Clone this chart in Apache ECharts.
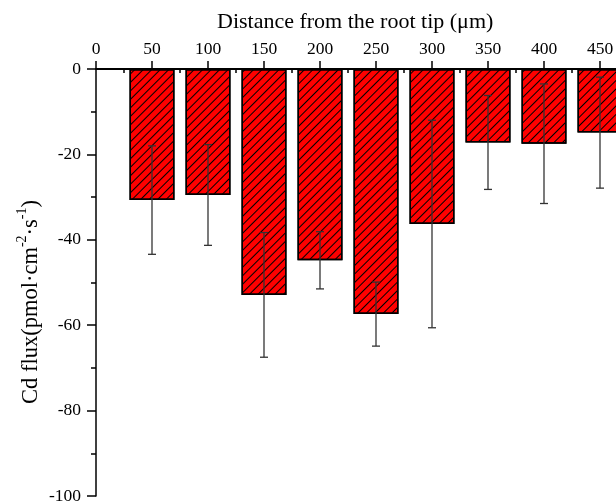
<!DOCTYPE html>
<html>
<head>
<meta charset="utf-8">
<script src="https://cdn.jsdelivr.net/npm/echarts@6/dist/echarts.min.js"></script>
<style>
  html, body { margin: 0; padding: 0; background: #fff; }
  #chart { width: 616px; height: 503px; }
</style>
</head>
<body>
<div id="chart"></div>
<script>
// distance from root tip (um) and Cd flux mean / error
const distances = [50, 100, 150, 200, 250, 300, 350, 400, 450];
const fluxMean = [-30.7, -29.5, -52.9, -44.8, -57.4, -36.3, -17.2, -17.5, -14.9];
const fluxErr = [12.7, 11.8, 14.6, 6.7, 7.5, 24.3, 11.0, 14.0, 13.0];

const FONT = "Liberation Serif";

const chart = echarts.init(document.getElementById("chart"));

const barData = distances.map((d, i) => [d, fluxMean[i]]);
const errData = distances.map((d, i) => [d, fluxMean[i] - fluxErr[i], fluxMean[i] + fluxErr[i]]);

const option = {
  backgroundColor: "#fff",
  animation: false,
  graphic: [
    {
      type: "text",
      left: 217,
      top: 11,
      style: {
        text: "Distance from the root tip (μm)",
        font: "22px " + FONT,
        fill: "#000",
      },
    },
    {
      // y axis title, sits a bit lower than the axis middle in the original
      type: "text",
      x: 29,
      y: 302,
      rotation: Math.PI / 2,
      style: {
        text: "{t|Cd flux(pmol·cm}{s|-2}{t|·s}{s|-1}{t|)}",
        align: "center",
        verticalAlign: "middle",
        rich: {
          t: { fontFamily: FONT, fontSize: 22.5, fill: "#000", lineHeight: 28, verticalAlign: "bottom" },
          s: { fontFamily: FONT, fontSize: 14, fill: "#000", lineHeight: 28, verticalAlign: "top" },
        },
      },
    },
  ],
  grid: { left: 96, top: 69, width: 560, height: 427, outerBoundsMode: "none" },
  xAxis: [
    {
      type: "value",
      position: "top",
      min: 0,
      max: 500,
      interval: 50,
      axisLine: { show: true, lineStyle: { color: "#000", width: 2 } },
      axisTick: { show: true, length: 8, lineStyle: { color: "#000", width: 1.5 } },
      axisLabel: { color: "#000", fontFamily: FONT, fontSize: 17.5, margin: 11 },
      splitLine: { show: false },
    },
    {
      // minor ticks pointing into the plot
      type: "value",
      position: "top",
      min: 0,
      max: 500,
      interval: 50,
      axisLine: { show: false },
      axisTick: { show: false, inside: true },
      axisLabel: { show: false },
      minorTick: { show: true, splitNumber: 2, length: 4, lineStyle: { color: "#000", width: 1.5 } },
      splitLine: { show: false },
    },
  ],
  yAxis: {
    type: "value",
    min: -100,
    max: 0,
    interval: 20,
    axisLine: { show: true, lineStyle: { color: "#000", width: 1.5 } },
    axisTick: { show: true, length: 9, lineStyle: { color: "#000", width: 1.5 } },
    minorTick: { show: true, splitNumber: 2, length: 5, lineStyle: { color: "#000", width: 1.5 } },
    axisLabel: { color: "#000", fontFamily: FONT, fontSize: 17.5, margin: 15 },
    splitLine: { show: false },
  },
  series: [
    {
      type: "bar",
      data: barData,
      barWidth: 45,
      itemStyle: {
        color: "#ff0000",
        borderColor: "#000",
        borderWidth: 1.5,
        decal: {
          symbol: "rect",
          symbolSize: 1,
          color: "#000",
          dashArrayX: [1, 0],
          dashArrayY: [0.7, 4.3],
          rotation: -Math.PI / 4,
        },
      },
    },
    {
      type: "custom",
      data: errData,
      z: 5,
      renderItem: function (params, api) {
        const x = api.value(0);
        const lo = api.coord([x, api.value(1)]);
        const hi = api.coord([x, api.value(2)]);
        const cap = 4;
        const style = { stroke: "#333", lineWidth: 1.3 };
        return {
          type: "group",
          children: [
            { type: "line", shape: { x1: lo[0], y1: lo[1], x2: hi[0], y2: hi[1] }, style: style },
            { type: "line", shape: { x1: lo[0] - cap, y1: lo[1], x2: lo[0] + cap, y2: lo[1] }, style: style },
            { type: "line", shape: { x1: hi[0] - cap, y1: hi[1], x2: hi[0] + cap, y2: hi[1] }, style: style },
          ],
        };
      },
    },
  ],
};

chart.setOption(option);
</script>
</body>
</html>
